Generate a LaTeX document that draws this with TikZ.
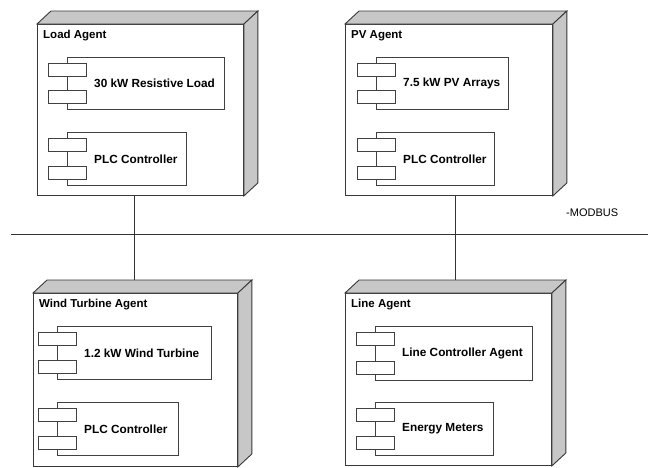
\documentclass[tikz,border=0pt]{standalone}
\usepackage{fontspec}
\setmainfont{Liberation Sans}
\begin{document}
\begin{tikzpicture}[x=1pt,y=-1pt,
  edge/.style={draw=black!78, line width=0.9pt},
  agent/.style={edge, fill=white, anchor=north west, inner sep=0pt},
  face/.style={edge, fill=black!22, line join=miter},
  comp/.style={draw=black!75, line width=0.8pt, fill=white, anchor=north west, inner sep=0pt},
  port/.style={draw=black!75, line width=0.8pt, fill=white, minimum width=38pt, minimum height=13pt, inner sep=0pt},
  title/.style={anchor=west, inner sep=0pt, font=\fontsize{11.5}{13}\selectfont\bfseries},
  ctext/.style={anchor=west, inner sep=0pt, font=\fontsize{11.8}{13}\selectfont\bfseries},
  link/.style={draw=black!80, line width=0.9pt}]

\useasboundingbox (0,0) rectangle (648,467);

% 3D node: name, x, y, width, height, title
\newcommand\agentbox[6]{%
  \node[agent, minimum width=#4pt, minimum height=#5pt] (#1) at (#2,#3) {};
  \path[face] (#1.north west) -- ([shift={(14,-13)}]#1.north west)
    -- ([shift={(14,-13)}]#1.north east) -- (#1.north east) -- cycle;
  \path[face] (#1.north east) -- ([shift={(14,-13)}]#1.north east)
    -- ([shift={(14,-13)}]#1.south east) -- (#1.south east) -- cycle;
  \node[title] (#1-title) at ([shift={(6,12)}]#1.north west) {#6};
}
% component: name, x, y, width, height, text
\newcommand\component[6]{%
  \node[comp, minimum width=#4pt, minimum height=#5pt] (#1) at (#2,#3) {};
  \node[port] (#1-p1) at ([yshift=-12.5pt]#1.north west) {};
  \node[port] (#1-p2) at ([yshift=12.5pt]#1.south west) {};
  \node[ctext] (#1-text) at ([xshift=27pt]#1.west) {#6};
}

% bus
\coordinate (busL) at (11,234);
\coordinate (busR) at (648,234);
\draw[link] (busL) -- (busR);
\node[anchor=west, inner sep=0pt, font=\fontsize{11}{13}\selectfont] (modbus) at (566,213) {-MODBUS};

% agents
\agentbox{load}{37}{24}{206}{171}{Load Agent}
\component{loadA}{67}{57}{157}{52}{30 kW Resistive Load}
\component{loadB}{67}{132}{119}{53}{PLC Controller}

\agentbox{pv}{345}{24}{207}{171}{PV Agent}
\component{pvA}{376}{57}{132}{52}{7.5 kW PV Arrays}
\component{pvB}{376}{132}{118}{53}{PLC Controller}

\agentbox{wind}{33}{293}{204}{173}{Wind Turbine Agent}
\component{windA}{57}{326}{154}{53}{1.2 kW Wind Turbine}
\component{windB}{57}{402}{121}{53}{PLC Controller}

\agentbox{line}{345}{293}{206}{172}{Line Agent}
\component{lineA}{375}{326}{157}{54}{Line Controller Agent}
\component{lineB}{375}{402}{118}{53}{Energy Meters}

% connections to the bus
\draw[link] ([xshift=97pt]load.south west) -- ([shift={(101,-13)}]wind.north west);
\draw[link] ([xshift=110pt]pv.south west) -- ([shift={(110,-13)}]line.north west);
\end{tikzpicture}
\end{document}
